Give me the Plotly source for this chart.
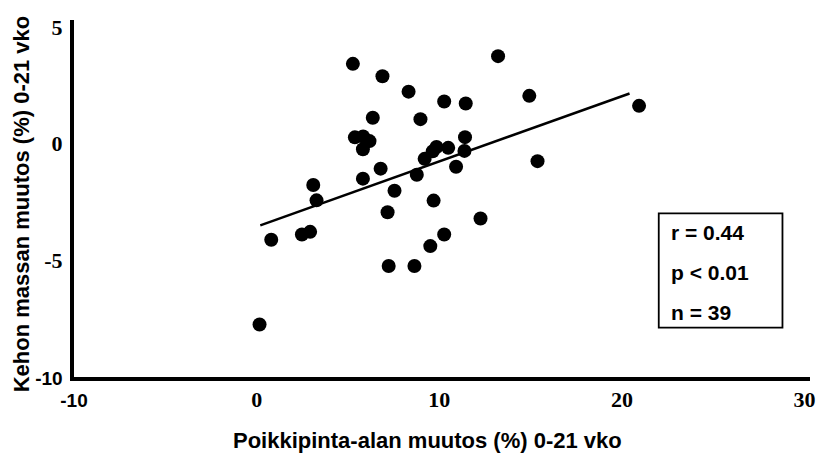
import plotly.graph_objects as go

# Data
csa_change = [0.16, 0.80, 2.48, 2.93, 3.10, 3.28, 5.27, 5.38, 5.83, 6.18,
              5.82, 6.36, 6.89, 5.82, 6.79, 7.55, 7.17, 7.23, 8.32, 8.64,
              8.97, 8.77, 9.20, 9.64, 9.85, 9.69, 9.51, 10.27, 10.27, 10.49,
              10.92, 11.45, 11.41, 11.38, 12.26, 13.22, 14.93, 15.38, 20.94]
mass_change = [-7.75, -4.12, -3.89, -3.78, -1.77, -2.43, 3.42, 0.27, 0.31, 0.11,
               -0.24, 1.11, 2.89, -1.50, -1.07, -2.02, -2.94, -5.24, 2.23, -5.24,
               1.05, -1.33, -0.65, -0.33, -0.14, -2.44, -4.39, -3.89, 1.81, -0.18,
               -0.99, 1.72, 0.28, -0.31, -3.21, 3.75, 2.05, -0.75, 1.62]
fit_x = [0.20, 20.42]
fit_y = [-3.50, 2.15]

x_tickvals = [-10, 0, 10, 20, 30]
x_ticklabels = ["-10", "0", "10", "20", "30"]
y_tickvals = [-10, -5, 0, 5]
y_ticklabels = ["-10", "-5", "0", "5"]

stats_lines = ["r = 0.44", "p < 0.01", "n = 39"]

x_title = "Poikkipinta-alan muutos (%) 0-21 vko"
y_title = "Kehon massan muutos (%) 0-21 vko"


def fmt_tick(label):
    # the "-10" labels are set in a sans font in the reference
    if label == "-10":
        return '<span style="font-family:Liberation Sans;font-size:19px;font-weight:bold">' + label + '</span>'
    return '<span style="font-family:Liberation Serif;font-size:22px;font-weight:bold">' + label + '</span>'


fig = go.Figure()
fig.add_trace(go.Scatter(x=csa_change, y=mass_change, mode="markers",
                         marker=dict(color="black", size=14, line=dict(width=0)),
                         showlegend=False, hoverinfo="x+y"))
fig.add_trace(go.Scatter(x=fit_x, y=fit_y, mode="lines",
                         line=dict(color="black", width=2.5),
                         showlegend=False, hoverinfo="skip"))

tick_font = dict(family="Liberation Serif", size=22, color="black", weight="bold")
title_font = dict(family="Liberation Sans", size=22, color="black", weight="bold")

fig.update_layout(
    width=823, height=456,
    margin=dict(l=74, r=8, t=20, b=79),
    paper_bgcolor="white", plot_bgcolor="white",
    xaxis=dict(range=[-10, 30.3], tickvals=x_tickvals,
               ticktext=[fmt_tick(t) for t in x_ticklabels],
               showgrid=False, zeroline=False, showline=True, linecolor="black",
               linewidth=4, ticks="", tickfont=tick_font, ticklabelstandoff=0),
    yaxis=dict(range=[-10, 5.3], tickvals=y_tickvals,
               ticktext=[fmt_tick(t) for t in y_ticklabels],
               showgrid=False, zeroline=False, showline=True, linecolor="black",
               linewidth=4, ticks="", tickfont=tick_font, ticklabelstandoff=3),
)

# axis titles
fig.add_annotation(text=x_title, xref="paper", yref="paper", x=0.4804, y=-0.1765,
                   showarrow=False, font=title_font, xanchor="center", yanchor="middle")
fig.add_annotation(text=y_title, xref="paper", yref="paper", x=-0.0702, y=0.4846,
                   showarrow=False, font=title_font, textangle=-90,
                   xanchor="center", yanchor="middle")

# stats box
fig.add_shape(type="rect", xref="paper", yref="paper", x0=0.7945, x1=0.9626,
              y0=0.1381, y1=0.4585, line=dict(color="black", width=1.8),
              fillcolor="white", layer="above")
box_font = dict(family="Liberation Sans", size=21, color="black", weight="bold")
for txt, yy in zip(stats_lines, [0.4034, 0.2927, 0.1793]):
    fig.add_annotation(text=txt, xref="paper", yref="paper", x=0.8084, y=yy,
                       showarrow=False, font=box_font, xanchor="left", yanchor="middle")

fig.write_html("out.html")
